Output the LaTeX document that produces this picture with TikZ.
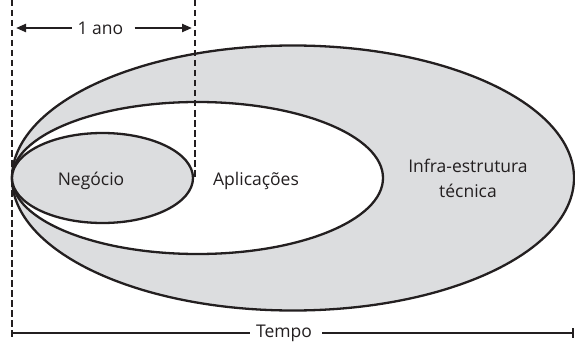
\documentclass[tikz,border=0pt]{standalone}
\usepackage{fontspec}
\setmainfont{Open Sans}
\usetikzlibrary{arrows.meta,calc}
\definecolor{shade}{HTML}{DCDDDF}
\definecolor{ink}{HTML}{231F20}
\begin{document}
\begin{tikzpicture}[x=1pt,y=1pt,
  ring/.style={draw=ink,line width=2.3pt},
  guide/.style={draw=ink,line width=2pt,dash pattern=on 6.5pt off 3.5pt},
  label/.style={text=ink,font=\fontsize{17.5}{25}\selectfont,inner sep=0pt,align=center},
  span/.style={draw=ink,line width=2.2pt},
  tip/.style={-{Triangle[length=10pt,width=8pt]}}]
\useasboundingbox (0,0) rectangle (575,346);
% nested ellipses, all touching the left guide line
\path[ring,fill=shade] (293,168) ellipse [x radius=281,y radius=132.5];
\path[ring,fill=white] (197.5,168) ellipse [x radius=185.5,y radius=76];
\path[ring,fill=shade] (102.5,168) ellipse [x radius=90.5,y radius=45];
% vertical guides
\coordinate (gtop) at (12,346);
\coordinate (gbot) at (12,8);
\coordinate (ytop) at (195,346);
\coordinate (ybot) at (195,168);
\draw[guide] (gtop) -- (gbot);
\draw[guide] (ytop) -- (ybot);
% labels
\node[label] (neg) at (91,165) {Negócio};
\node[label] (apl) at (256,165) {Aplicações};
\node[label] (inf) at (468,168) {Infra-estrutura\\técnica};
% one-year span
\node[label] (ano) at (100.5,318) {1 ano};
\coordinate (al) at (16,318);
\coordinate (ar) at (192,318);
\draw[span,tip] (ano.west) ++(-6,0) -- (al);
\draw[span,tip] (ano.east) ++(11,0) -- (ar);
% time axis
\node[label] (tempo) at (284,13) {Tempo};
\coordinate (tl) at (12,13);
\coordinate (tr) at (573,13);
\draw[span] (tempo.west) ++(-6,0) -- (tl);
\draw[span] (tempo.east) ++(10,0) -- (tr);
\draw[span,line width=1.6pt] ($(tr)+(0,5)$) -- ($(tr)+(0,-5)$);
\end{tikzpicture}
\end{document}
